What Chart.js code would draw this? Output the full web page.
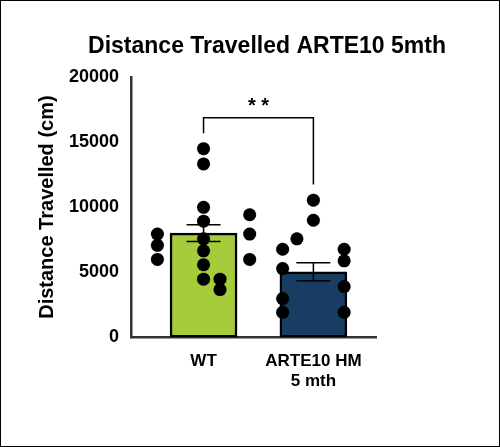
<!DOCTYPE html><html><head><script src="https://cdn.jsdelivr.net/npm/chart.js@4"></script>
<style>body{margin:0;background:#fff}#w{position:relative;width:498px;height:445px;border:1px solid #000}</style></head><body><div id="w"><canvas id="c"></canvas></div><script>
const categories=[["WT"],["ARTE10 HM","5 mth"]];
const means=[8000,5030];
const sems=[650,700];
const wtValues=[14490,13320,9980,9410,8920,7930,7930,7560,7560,7560,7060,6640,5980,5980,5570,4460];
const hmValues=[10530,8990,6760,6760,5870,5275,4460,3660,3890,4030,2970,1910,1910];
const yTicks=[0,5000,10000,15000,20000];
const sigLabel="* *";
const titleText='Distance Travelled ARTE10 5mth';
const colors=['#a6cc3c','#173d63'];
const wtJit=[0,0,0,.42,0,-.42,.42,-.85,0,.85,-.42,0,-.42,.42,0,0];
const hmJit=[0,0,-.28,.28,.28,-.28,-.85,-.85,.28,.85,-.28,-.28,.28];
const F='"Liberation Sans",Arial,sans-serif';
const extras={id:'extras',afterDatasetsDraw(ch){const c=ch.ctx,x=ch.scales.x,y=ch.scales.y;c.save();c.strokeStyle='#000';c.lineWidth=1.5;
means.forEach((m,i)=>{const px=x.getPixelForValue(i);c.beginPath();c.moveTo(px,y.getPixelForValue(m-sems[i]));c.lineTo(px,y.getPixelForValue(m+sems[i]));
[m-sems[i],m+sems[i]].forEach(v=>{c.moveTo(px-17,y.getPixelForValue(v));c.lineTo(px+17,y.getPixelForValue(v));});c.stroke();});
const x0=x.getPixelForValue(0),x1=x.getPixelForValue(1),yb=y.getPixelForValue(16870);
c.beginPath();c.moveTo(x0,y.getPixelForValue(15680));c.lineTo(x0,yb);c.lineTo(x1,yb);c.lineTo(x1,y.getPixelForValue(11740));c.stroke();
c.fillStyle='#000';c.font='bold 20px '+F;c.textAlign='center';c.fillText(sigLabel,(x0+x1)/2,yb-6);
c.font='bold 23px '+F;c.fillText(titleText,266,52);c.restore();}};
new Chart(document.getElementById('c'),{type:'bar',data:{datasets:[
{type:'scatter',data:wtValues.map((v,i)=>({x:wtJit[i],y:v})),backgroundColor:'#000',pointRadius:6.5,order:0},
{type:'scatter',data:hmValues.map((v,i)=>({x:1+hmJit[i]*1,y:v})),backgroundColor:'#000',pointRadius:6.5,order:0},
{data:means.map((m,i)=>({x:i,y:m})),backgroundColor:colors,borderColor:'#000',borderWidth:2.5,borderSkipped:false,barThickness:67,order:1}]},
options:{responsive:true,maintainAspectRatio:false,animation:false,devicePixelRatio:1,
layout:{padding:{left:30,right:123,top:76,bottom:40}},
plugins:{legend:{display:false},tooltip:{enabled:false}},
scales:{x:{type:'linear',offset:false,min:-0.66,max:1.57,grid:{display:false,drawTicks:false},border:{color:'#333',width:2.5},
afterBuildTicks:a=>{a.ticks=[{value:0},{value:1}]},ticks:{color:'#000',padding:14,font:{family:F,size:17,weight:'bold'},callback:v=>categories[v]}},
y:{min:0,max:20000,grid:{display:false,drawTicks:true,tickLength:8,color:'#333'},border:{color:'#333',width:2.5},afterBuildTicks:a=>{a.ticks=yTicks.map(v=>({value:v}))},
ticks:{color:'#000',padding:4,font:{family:F,size:18,weight:'bold'},callback:v=>String(v)},title:{display:true,text:'Distance Travelled (cm)',color:'#000',font:{family:F,size:20,weight:'bold'},padding:{bottom:6}}}}},
plugins:[extras]});
</script></body></html>
